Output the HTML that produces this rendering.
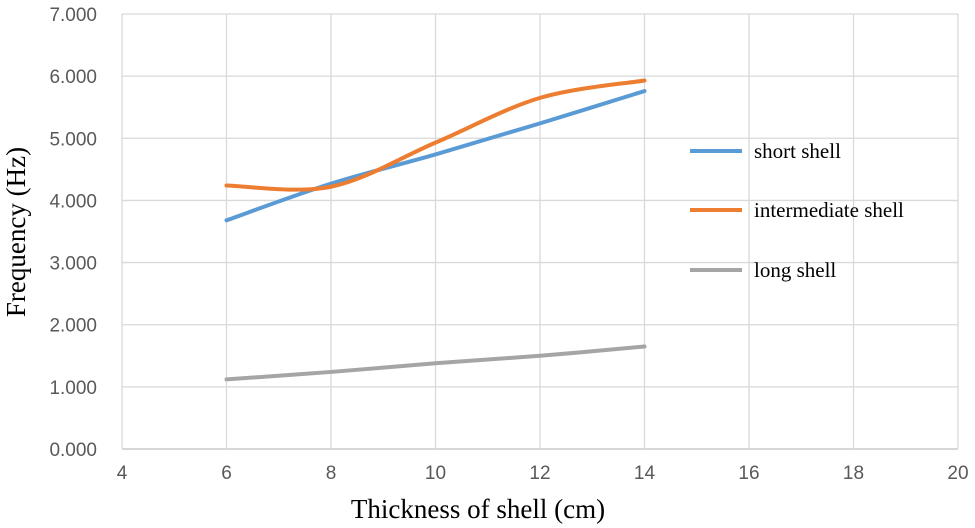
<!DOCTYPE html>
<html><head><meta charset="utf-8"><style>
html,body{margin:0;padding:0;background:#fff;width:975px;height:528px;overflow:hidden}
</style></head><body>
<svg id="chart" width="975" height="528" xmlns="http://www.w3.org/2000/svg"></svg>
<script>
const xTicks=[4,6,8,10,12,14,16,18,20];
const yTicks=[0,1,2,3,4,5,6,7];
const yTickLabels=["0.000","1.000","2.000","3.000","4.000","5.000","6.000","7.000"];
const categories=[6,8,10,12,14];
const shortShell=[3.68,4.27,4.74,5.24,5.76];
const intermediateShell=[4.24,4.22,4.93,5.65,5.93];
const longShell=[1.12,1.24,1.38,1.50,1.65];
const seriesNames=["short shell","intermediate shell","long shell"];

const NS="http://www.w3.org/2000/svg";
const svg=document.getElementById('chart');
const X0=122,X1=958,Y0=449,Y1=14;
const sx=v=>X0+(v-4)/(20-4)*(X1-X0);
const sy=v=>Y0-(v/7)*(Y0-Y1);
function mk(tag,attrs,parent){const e=document.createElementNS(NS,tag);for(const k in attrs)e.setAttribute(k,attrs[k]);(parent||svg).appendChild(e);return e;}

yTicks.forEach((t,i)=>{
  const l=mk('line',{x1:X0,x2:X1,y1:sy(t),y2:sy(t),stroke:i===0?'#bfbfbf':'#d9d9d9','stroke-width':1.3});
  
  
  const tx=mk('text',{x:97,y:sy(t)+7,'text-anchor':'end','font-family':'Liberation Sans, sans-serif','font-size':19,fill:'#595959'});
  tx.textContent=yTickLabels[i];
  
  
});
xTicks.forEach(t=>{
  const l=mk('line',{x1:sx(t),x2:sx(t),y1:Y1,y2:Y0,stroke:'#d9d9d9','stroke-width':1.3});
  
  
  const tx=mk('text',{x:sx(t),y:479,'text-anchor':'middle','font-family':'Liberation Sans, sans-serif','font-size':19,fill:'#595959'});
  tx.textContent=t;
  
  
});

function smoothPath(xs,ys){
  const p=xs.map((x,i)=>[sx(x),sy(ys[i])]);
  let d='M'+p[0][0]+','+p[0][1];
  for(let i=0;i<p.length-1;i++){
    const a=p[i-1]||p[i],b=p[i],c=p[i+1],e=p[i+2]||c;
    const c1=[b[0]+(c[0]-a[0])/6,b[1]+(c[1]-a[1])/6];
    const c2=[c[0]-(e[0]-b[0])/6,c[1]-(e[1]-b[1])/6];
    d+=' C'+c1+' '+c2+' '+c;
  }
  return d;
}
const series=[[shortShell,'#5b9bd5','short-shell-line'],[intermediateShell,'#ed7d31','intermediate-shell-line'],[longShell,'#a5a5a5','long-shell-line']];
series.forEach(([vals,col,name])=>{
  const p=mk('path',{d:smoothPath(categories,vals),fill:'none',stroke:col,'stroke-width':4,'stroke-linecap':'round'});
  
  
});

const legY=[151,210,270];
seriesNames.forEach((n,i)=>{
  const g=mk('g',{});
  
  
  mk('line',{x1:690,x2:742,y1:legY[i],y2:legY[i],stroke:series[i][1],'stroke-width':4},g);
  const t=mk('text',{x:754,y:legY[i]+7,'font-family':'Liberation Serif, serif','font-size':21,fill:'#000'},g);
  t.textContent=n;
});

const xt=mk('text',{x:478,y:518,'text-anchor':'middle','font-family':'Liberation Serif, serif','font-size':27,fill:'#000'});
xt.textContent='Thickness of shell (cm)';


const yt=mk('text',{x:0,y:0,transform:'translate(25,232) rotate(-90)','text-anchor':'middle','font-family':'Liberation Serif, serif','font-size':27,fill:'#000'});
yt.textContent='Frequency (Hz)';


</script>
</body></html>
